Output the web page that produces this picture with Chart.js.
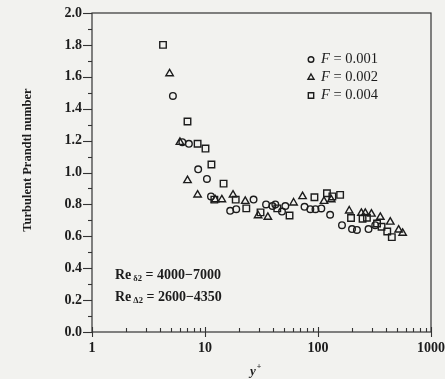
<!DOCTYPE html>
<html>
<head>
<meta charset="utf-8">
<script src="https://cdn.jsdelivr.net/npm/chart.js@4/dist/chart.umd.min.js"></script>
<style>
  html, body { margin: 0; padding: 0; background: #f2f2ef; }
  #wrap { width: 445px; height: 379px; position: relative; }
</style>
</head>
<body>
<div id="wrap"><canvas id="c" width="445" height="379"></canvas></div>
<script>
// ---- data ----
const seriesLabels = ['F = 0.001', 'F = 0.002', 'F = 0.004'];

const xF001 = [5.2, 6.3, 7.2, 8.7, 10.4, 11.3, 16.7, 18.9, 26.9, 34.7, 39.5, 41.9, 48, 51.4, 76, 85.5, 95, 107, 128, 163, 200, 221, 280, 321];
const yF001 = [1.48, 1.19, 1.18, 1.02, 0.96, 0.85, 0.76, 0.77, 0.83, 0.80, 0.79, 0.80, 0.755, 0.79, 0.785, 0.77, 0.77, 0.775, 0.735, 0.67, 0.645, 0.64, 0.645, 0.67];

const xF002 = [4.86, 6.0, 7.0, 8.6, 12.3, 14.1, 17.7, 22.7, 29.5, 36, 60.8, 73, 113, 131, 189, 242, 262, 297, 356, 436, 517, 561];
const yF002 = [1.62, 1.19, 0.95, 0.86, 0.83, 0.83, 0.86, 0.82, 0.73, 0.72, 0.81, 0.85, 0.82, 0.83, 0.76, 0.745, 0.745, 0.74, 0.72, 0.69, 0.64, 0.62];

const xF004 = [4.25, 7.0, 8.6, 10.1, 11.4, 14.6, 12.1, 18.7, 23.2, 31, 43.6, 56, 93, 120, 134, 157, 196, 248, 271, 333, 365, 410, 450];
const yF004 = [1.80, 1.32, 1.18, 1.15, 1.05, 0.93, 0.83, 0.83, 0.775, 0.75, 0.775, 0.73, 0.845, 0.87, 0.85, 0.86, 0.715, 0.71, 0.716, 0.68, 0.66, 0.63, 0.595];

const xMajorTicks = [1, 10, 100, 1000];
const yMin = 0, yMax = 2.0, yStep = 0.2;
const annotationLines = [
  { base: 'Re', sub: 'δ2', rest: ' = 4000−7000' },
  { base: 'Re', sub: 'Δ2', rest: ' = 2600−4350' }
];
const yTitle = 'Turbulent Prandtl number';
const xTitle = 'y';
const xTitleSup = '+';

// ---- build ----
const pts = (xs, ys) => xs.map((x, i) => ({ x: x, y: ys[i] }));
const INK = '#1c1c1c';
const FONT = '"Liberation Serif", "DejaVu Serif", serif';

const styles = [
  { pointStyle: 'circle', radius: 3.3 },
  { pointStyle: 'triangle', radius: 4.3 },
  { pointStyle: 'rect', radius: 4.6 }
];
const allX = [xF001, xF002, xF004];
const allY = [yF001, yF002, yF004];

const datasets = seriesLabels.map((lab, i) => ({
  label: lab,
  data: pts(allX[i], allY[i]),
  pointStyle: styles[i].pointStyle,
  pointRadius: styles[i].radius,
  pointHoverRadius: styles[i].radius,
  pointBorderWidth: 1.4,
  pointBorderColor: INK,
  pointBackgroundColor: 'rgba(0,0,0,0)',
  showLine: false
}));

const decor = {
  id: 'decor',
  afterDraw(chart) {
    const ctx = chart.ctx;
    const { left, right, top, bottom } = chart.chartArea;
    const xs = chart.scales.x, ys = chart.scales.y;
    ctx.save();
    // frame
    ctx.strokeStyle = '#333';
    ctx.lineWidth = 1.2;
    ctx.strokeRect(left, top, right - left, bottom - top);
    // y ticks
    ctx.lineWidth = 1.1;
    for (let k = 0; k <= 20; k++) {
      const v = k * 0.1;
      const py = Math.round(ys.getPixelForValue(v)) + 0.5;
      const len = (k % 2 === 0) ? 9 : 4;
      ctx.beginPath(); ctx.moveTo(left - len, py); ctx.lineTo(left, py); ctx.stroke();
    }
    // x ticks
    for (let d = 1; d <= 100; d *= 10) {
      for (let k = 1; k <= 9; k++) {
        const px = Math.round(xs.getPixelForValue(k * d)) + 0.5;
        ctx.beginPath();
        if (k === 1) { ctx.moveTo(px, bottom - 5); ctx.lineTo(px, bottom + 5); }
        else { ctx.moveTo(px, bottom - 4); ctx.lineTo(px, bottom); }
        ctx.stroke();
      }
    }
    const p1000 = Math.round(xs.getPixelForValue(1000)) + 0.5;
    ctx.beginPath(); ctx.moveTo(p1000, bottom - 5); ctx.lineTo(p1000, bottom + 5); ctx.stroke();

    // legend
    ctx.textBaseline = 'middle';
    const legX = 311, legY0 = 59.5, legDY = 18;
    seriesLabels.forEach((lab, i) => {
      const cy = legY0 + i * legDY;
      ctx.strokeStyle = INK;
      ctx.fillStyle = 'rgba(0,0,0,0)';
      ctx.lineWidth = 1.4;
      Chart.helpers.drawPoint(ctx, { pointStyle: styles[i].pointStyle, radius: [2.8, 3.5, 3.8][i], rotation: 0, borderWidth: 1.4 }, legX, cy);
      ctx.fillStyle = INK;
      const parts = lab.split(' = ');
      ctx.font = 'italic 14.5px ' + FONT;
      ctx.textAlign = 'left';
      ctx.fillText(parts[0], 321, cy);
      const w = ctx.measureText(parts[0]).width;
      ctx.font = '14.5px ' + FONT;
      ctx.fillText(' = ' + parts[1], 321 + w, cy);
    });

    // annotations
    ctx.fillStyle = INK;
    annotationLines.forEach((ln, i) => {
      const cy = 275 + i * 22;
      let x = 115;
      ctx.font = 'bold 14px ' + FONT;
      ctx.fillText(ln.base, x, cy);
      x += ctx.measureText(ln.base).width + 2;
      ctx.font = 'bold 8.5px ' + FONT;
      ctx.fillText(ln.sub, x, cy + 4);
      x += ctx.measureText(ln.sub).width;
      ctx.font = 'bold 14px ' + FONT;
      ctx.fillText(ln.rest, x, cy);
    });

    // axis titles
    ctx.font = 'bold 12.5px ' + FONT;
    ctx.textAlign = 'center';
    ctx.save();
    ctx.translate(28, 160);
    ctx.rotate(-Math.PI / 2);
    ctx.fillText(yTitle, 0, 0);
    ctx.restore();
    ctx.font = 'bold italic 13px ' + FONT;
    ctx.fillText(xTitle, 253, 372);
    ctx.font = 'bold 8px ' + FONT;
    ctx.fillText(xTitleSup, 259, 367);
    ctx.restore();
  }
};

new Chart(document.getElementById('c'), {
  type: 'scatter',
  data: { datasets },
  options: {
    responsive: false,
    animation: false,
    layout: { padding: { top: 13, right: 14, left: 0, bottom: 0 } },
    plugins: { legend: { display: false }, tooltip: { enabled: false } },
    scales: {
      x: {
        type: 'logarithmic',
        min: 1, max: 1000,
        grid: { display: false, drawTicks: true, tickLength: 8 },
        border: { display: false },
        afterFit(s) { s.height = 47; },
        ticks: {
          autoSkip: false, maxRotation: 0, padding: 0,
          color: INK,
          font: { family: FONT, size: 14, weight: 'bold' },
          callback: (v) => xMajorTicks.includes(v) ? String(v) : ''
        }
      },
      y: {
        min: yMin, max: yMax,
        grid: { display: false, drawTicks: true, tickLength: 10 },
        border: { display: false },
        afterFit(s) { s.width = 92; },
        ticks: {
          stepSize: yStep, padding: 0,
          color: INK,
          font: { family: FONT, size: 14, weight: 'bold' },
          callback: (v) => Number(v).toFixed(1)
        }
      }
    }
  },
  plugins: [decor]
});
</script>
</body>
</html>
